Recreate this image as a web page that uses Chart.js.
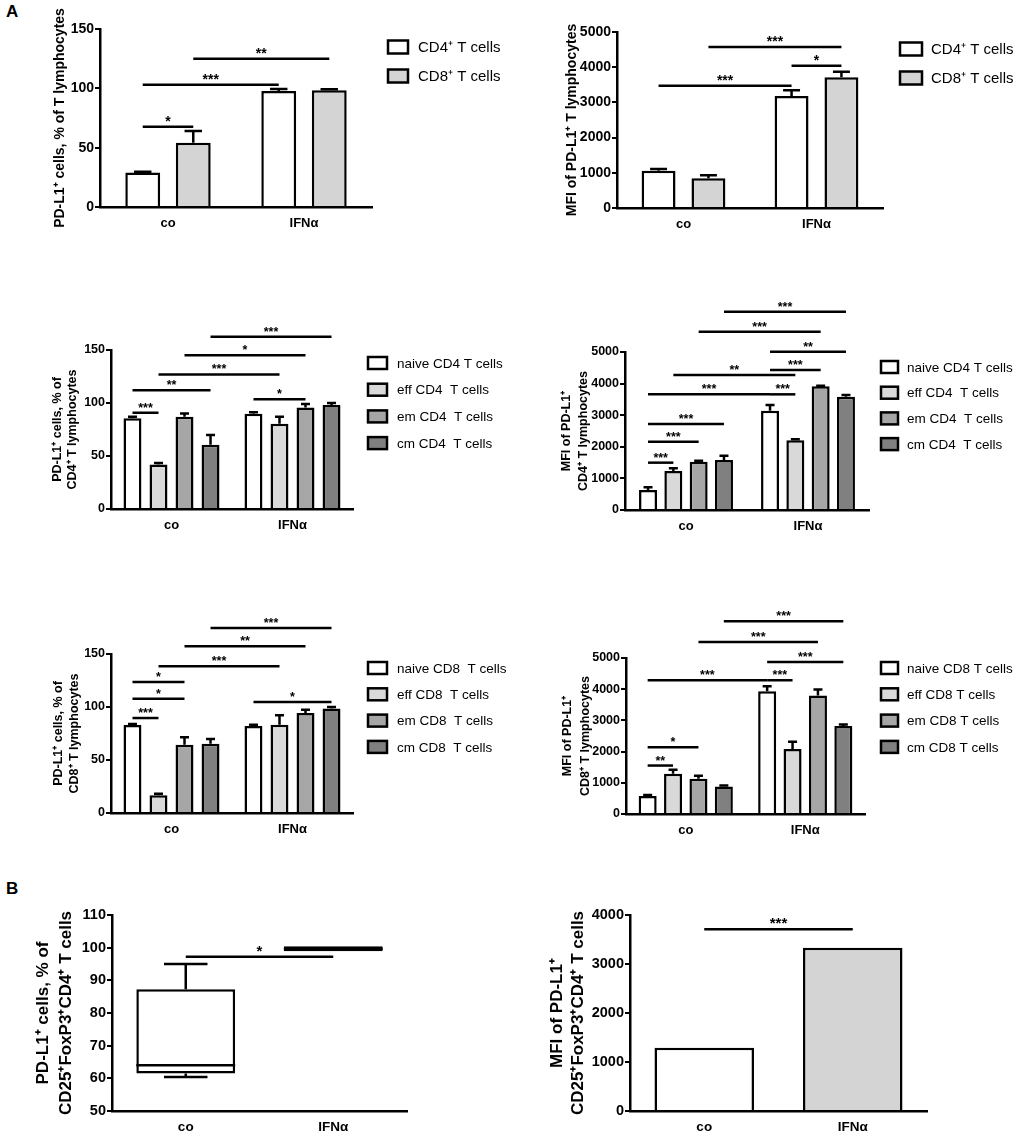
<!DOCTYPE html>
<html>
<head>
<meta charset="utf-8">
<script src="https://cdn.jsdelivr.net/npm/chart.js@4.4.1/dist/chart.umd.min.js"></script>
<style>
html, body { margin: 0; padding: 0; background: #fff; }
body { width: 1022px; height: 1134px; position: relative; overflow: hidden; font-family: "Liberation Sans", Arial, sans-serif; }
canvas { position: absolute; }
.tag { position: absolute; font-weight: bold; font-size: 17px; color: #000; }
</style>
</head>
<body>
<div class="tag" style="left:6px;top:2px">A</div>
<div class="tag" style="left:6px;top:879px">B</div>
<canvas id="p1"></canvas>
<canvas id="p2"></canvas>
<canvas id="p3"></canvas>
<canvas id="p4"></canvas>
<canvas id="p5"></canvas>
<canvas id="p6"></canvas>
<canvas id="p7"></canvas>
<canvas id="p8"></canvas>
<script>
var groups = ['co', 'IFNα'];

// A, top row: CD4 vs CD8
var tLabels = ['CD4⁺ T cells', 'CD8⁺ T cells'];
var pctCD4 = [29, 97.8];
var pctCD4Err = [29.8, 99.5];
var pctCD8 = [54.2, 98.3];
var pctCD8Err = [64, 99.2];
var mfiCD4 = [1061, 3182];
var mfiCD4Err = [1108, 3343];
var mfiCD8 = [843, 3712];
var mfiCD8Err = [928, 3873];

// A, subsets (naive, eff, em, cm), values per group [co, IFNα]
var cd4Labels = ['naive CD4 T cells', 'eff CD4  T cells', 'em CD4  T cells', 'cm CD4  T cells'];
var cd4Pct = [[85.5, 89.8], [42, 80.4], [87, 95.8], [60.6, 98]];
var cd4PctErr = [[87, 91.3], [43.5, 87], [90, 99], [69.7, 100]];
var cd4Mfi = [[633, 3143], [1234, 2205], [1530, 3913], [1582, 3586]];
var cd4MfiErr = [[717, 3323], [1318, 2236], [1561, 3935], [1719, 3639]];

var cd8PctLabels = ['naive CD8  T cells', 'eff CD8  T cells', 'em CD8  T cells', 'cm CD8  T cells'];
var cd8MfiLabels = ['naive CD8 T cells', 'eff CD8 T cells', 'em CD8 T cells', 'cm CD8 T cells'];
var cd8Pct = [[83, 82], [16.7, 83.3], [64.5, 94.3], [65.4, 98.7]];
var cd8PctErr = [[84, 83.3], [18.2, 92.1], [71.4, 97.5], [69.8, 100]];
var cd8Mfi = [[574, 3936], [1287, 2085], [1128, 3798], [883, 2819]];
var cd8MfiErr = [[606, 4096], [1415, 2319], [1223, 3989], [915, 2872]];

// B, Treg cells
var tregQ1 = [61.5, 98.9];
var tregQ3 = [87.3, 100.4];
var tregMedian = [64, 99.7];
var tregMin = [60.4, 98.9];
var tregMax = [95, 100.4];
var tregMfi = [1290, 3330];

// significance bars: [group, series, group, series, height, label]
var starsP1 = [[0, 0, 0, 1, 67.6, '*'], [0, 0, 1, 0, 103, '***'], [0, 1, 1, 1, 124.9, '**']];
var starsP2 = [[0, 0, 1, 0, 3475, '***'], [1, 0, 1, 1, 4044, '*'], [0, 1, 1, 1, 4574, '***']];
var starsP3 = [[0, 0, 0, 1, 90.8, '***'], [0, 0, 0, 3, 112, '**'], [0, 1, 1, 1, 127, '***'],
               [0, 2, 1, 2, 145, '*'], [0, 3, 1, 3, 162.6, '***'], [1, 0, 1, 2, 103.5, '*']];
var starsP4 = [[0, 0, 0, 1, 1498, '***'], [0, 0, 0, 2, 2162, '***'], [0, 0, 0, 3, 2722, '***'],
               [0, 0, 1, 0, 3660, '***'], [1, 0, 1, 1, 3660, '***'], [0, 1, 1, 1, 4272, '**'],
               [1, 0, 1, 2, 4430, '***'], [1, 0, 1, 3, 5010, '**'], [0, 2, 1, 2, 5643, '***'],
               [0, 3, 1, 3, 6276, '***']];
var starsP5 = [[0, 0, 0, 1, 89.6, '***'], [0, 0, 0, 2, 107.9, '*'], [0, 0, 0, 2, 123.6, '*'],
               [0, 1, 1, 1, 138.4, '***'], [0, 2, 1, 2, 157.2, '**'], [0, 3, 1, 3, 174.5, '***'],
               [1, 0, 1, 3, 104.7, '*']];
var starsP6 = [[0, 0, 0, 1, 1553, '**'], [0, 0, 0, 2, 2138, '*'], [0, 0, 1, 0, 4287, '***'],
               [1, 0, 1, 1, 4287, '***'], [1, 0, 1, 3, 4872, '***'], [0, 2, 1, 2, 5511, '***'],
               [0, 3, 1, 3, 6181, '***']];
var starsP7 = [[0, 0, 1, 0, 97.2, '*']];
var starsP8 = [[0, 0, 1, 0, 3707, '***']];

var FONT = '"Liberation Sans", Arial, sans-serif';
var fills = ['#ffffff', '#d9d9d9', '#a6a6a6', '#808080'];

// error bars, upper side only
var errorBars = {
    id: 'errorBars',
    afterDatasetsDraw: function (chart) {
        var ctx = chart.ctx, y = chart.scales.y;
        chart.data.datasets.forEach(function (ds, i) {
            if (!ds.err) return;
            chart.getDatasetMeta(i).data.forEach(function (bar, j) {
                var top = y.getPixelForValue(ds.data[j]);
                var end = y.getPixelForValue(ds.err[j]);
                var half = bar.width * 0.25;
                ctx.save();
                ctx.strokeStyle = '#000';
                ctx.lineWidth = 2.5;
                ctx.beginPath();
                ctx.moveTo(bar.x, top);
                ctx.lineTo(bar.x, end);
                ctx.moveTo(bar.x - half, end);
                ctx.lineTo(bar.x + half, end);
                ctx.stroke();
                ctx.restore();
            });
        });
    }
};

// box plot whiskers and median
var whiskers = {
    id: 'whiskers',
    afterDatasetsDraw: function (chart) {
        var b = chart.data.box;
        if (!b) return;
        var ctx = chart.ctx, y = chart.scales.y;
        chart.getDatasetMeta(0).data.forEach(function (bar, j) {
            var half = bar.width / 2, cap = bar.width * 0.22;
            ctx.save();
            ctx.strokeStyle = '#000';
            ctx.lineWidth = 2.5;
            ctx.beginPath();
            var yMed = y.getPixelForValue(b.median[j]);
            ctx.moveTo(bar.x - half, yMed); ctx.lineTo(bar.x + half, yMed);
            var yq3 = y.getPixelForValue(b.q3[j]), yMax = y.getPixelForValue(b.max[j]);
            if (b.max[j] > b.q3[j]) {
                ctx.moveTo(bar.x, yq3); ctx.lineTo(bar.x, yMax);
                ctx.moveTo(bar.x - cap, yMax); ctx.lineTo(bar.x + cap, yMax);
            }
            var yq1 = y.getPixelForValue(b.q1[j]), yMin = y.getPixelForValue(b.min[j]);
            if (b.min[j] < b.q1[j]) {
                ctx.moveTo(bar.x, yq1); ctx.lineTo(bar.x, yMin);
                ctx.moveTo(bar.x - cap, yMin); ctx.lineTo(bar.x + cap, yMin);
            }
            ctx.stroke();
            ctx.restore();
        });
    }
};

var brackets = {
    id: 'brackets',
    afterDraw: function (chart, args, o) {
        var list = chart.data.brackets || [];
        var ctx = chart.ctx, y = chart.scales.y;
        list.forEach(function (b) {
            var a = chart.getDatasetMeta(b[1]).data[b[0]];
            var c = chart.getDatasetMeta(b[3]).data[b[2]];
            var yy = y.getPixelForValue(b[4]);
            ctx.save();
            ctx.strokeStyle = '#000';
            ctx.lineWidth = 2.5;
            ctx.beginPath();
            ctx.moveTo(a.x, yy);
            ctx.lineTo(c.x, yy);
            ctx.stroke();
            ctx.fillStyle = '#000';
            ctx.font = 'bold ' + o.size + 'px ' + FONT;
            ctx.textAlign = 'center';
            ctx.textBaseline = 'alphabetic';
            ctx.fillText(b[5], (a.x + c.x) / 2, yy - 1);
            ctx.restore();
        });
    }
};

var boxLegend = {
    id: 'boxLegend',
    afterDraw: function (chart, args, o) {
        if (!o.show) return;
        var ctx = chart.ctx;
        chart.data.datasets.forEach(function (ds, i) {
            var cy = o.y + i * o.dy;
            ctx.save();
            ctx.fillStyle = ds.backgroundColor;
            ctx.fillRect(o.x, cy - o.bh / 2, o.bw, o.bh);
            ctx.strokeStyle = '#000';
            ctx.lineWidth = 2.5;
            ctx.strokeRect(o.x, cy - o.bh / 2, o.bw, o.bh);
            ctx.fillStyle = '#000';
            ctx.font = o.size + 'px ' + FONT;
            ctx.textAlign = 'left';
            ctx.textBaseline = 'middle';
            ctx.fillText(ds.label, o.tx, cy + 1);
            ctx.restore();
        });
    }
};

// f: canvas frame (page px), ax: axis box (page px)
function panel(id, f, ax, cfg) {
    var cv = document.getElementById(id);
    cv.width = f.w;
    cv.height = f.h;
    cv.style.left = f.x + 'px';
    cv.style.top = f.y + 'px';
    var lh = cfg.titleSize * cfg.titleLH;
    var lg = cfg.legend;
    var legendOpts = lg ? {
        show: true, x: lg.x - f.x, y: lg.y - f.y, dy: lg.dy, bw: lg.bw, bh: lg.bh,
        tx: lg.tx - f.x, size: lg.size
    } : { show: false };
    var data = { labels: groups, datasets: cfg.datasets, brackets: cfg.brackets };
    if (cfg.box) data.box = cfg.box;
    return new Chart(cv, {
        type: 'bar',
        data: data,
        options: {
            responsive: false,
            animation: false,
            devicePixelRatio: 1,
            layout: { padding: { left: 0, top: ax.top - f.y, right: f.x + f.w - ax.right, bottom: 0 } },
            datasets: {
                bar: {
                    categoryPercentage: cfg.cat,
                    barPercentage: cfg.bar,
                    borderColor: '#000',
                    borderWidth: 2.5,
                    borderSkipped: cfg.skip === undefined ? 'start' : cfg.skip
                }
            },
            plugins: {
                legend: { display: false },
                tooltip: { enabled: false },
                boxLegend: legendOpts,
                brackets: { size: cfg.starSize }
            },
            scales: {
                x: {
                    grid: { display: false, drawTicks: false },
                    border: { display: true, color: '#000', width: 2.5 },
                    ticks: {
                        color: '#000',
                        font: { family: FONT, weight: 'bold', size: cfg.xSize },
                        padding: 16 - cfg.xSize * 0.6
                    },
                    afterFit: function (s) { s.height = f.y + f.h - ax.bottom; }
                },
                y: {
                    min: cfg.min,
                    max: cfg.max,
                    ticks: {
                        stepSize: cfg.step,
                        autoSkip: false,
                        color: '#000',
                        padding: 1,
                        font: { family: FONT, weight: 'bold', size: cfg.tickSize },
                        callback: function (v) { return String(v); }
                    },
                    grid: { drawOnChartArea: false, drawTicks: true, tickLength: 5, color: '#000', lineWidth: 2 },
                    border: { color: '#000', width: 2.5 },
                    title: {
                        display: true,
                        text: cfg.title,
                        color: '#000',
                        font: { family: FONT, weight: 'bold', size: cfg.titleSize, lineHeight: cfg.titleLH },
                        padding: { top: cfg.titleX - f.x - lh / 2, bottom: 0 }
                    },
                    afterFit: function (s) { s.width = ax.left - f.x; }
                }
            }
        },
        plugins: [errorBars, whiskers, brackets, boxLegend]
    });
}

function pairSets(a, aErr, b, bErr, second) {
    return [
        { label: tLabels[0], data: a, err: aErr, backgroundColor: '#ffffff' },
        { label: tLabels[1], data: b, err: bErr, backgroundColor: second }
    ];
}

function subsetSets(labels, vals, errs) {
    return labels.map(function (lab, i) {
        return { label: lab, data: vals[i], err: errs[i], backgroundColor: fills[i] };
    });
}

panel('p1', { x: 0, y: 0, w: 515, h: 250 }, { left: 100, top: 29, bottom: 207, right: 372 }, {
    datasets: pairSets(pctCD4, pctCD4Err, pctCD8, pctCD8Err, '#d4d4d4'),
    brackets: starsP1, min: 0, max: 150, step: 50, cat: 0.743, bar: 0.69,
    title: 'PD-L1⁺ cells, % of T lymphocytes', titleSize: 14, titleLH: 1.2, titleX: 60,
    tickSize: 14, xSize: 13, starSize: 14,
    legend: { x: 388, y: 47, dy: 29, bw: 20, bh: 13, tx: 418, size: 15 }
});

panel('p2', { x: 520, y: 0, w: 502, h: 250 }, { left: 617, top: 32, bottom: 208, right: 883 }, {
    datasets: pairSets(mfiCD4, mfiCD4Err, mfiCD8, mfiCD8Err, '#d4d4d4'),
    brackets: starsP2, min: 0, max: 5000, step: 1000, cat: 0.75, bar: 0.68,
    title: 'MFI of PD-L1⁺ T lymphocytes', titleSize: 14, titleLH: 1.2, titleX: 572,
    tickSize: 14, xSize: 13, starSize: 14,
    legend: { x: 900, y: 49, dy: 29, bw: 22, bh: 13, tx: 931, size: 15 }
});

panel('p3', { x: 0, y: 290, w: 515, h: 255 }, { left: 111, top: 350, bottom: 509, right: 353 }, {
    datasets: subsetSets(cd4Labels, cd4Pct, cd4PctErr),
    brackets: starsP3, min: 0, max: 150, step: 50, cat: 0.86, bar: 0.69,
    title: ['PD-L1⁺ cells, % of', 'CD4⁺ T lymphocytes'], titleSize: 12.5, titleLH: 1.2, titleX: 58,
    tickSize: 12.5, xSize: 13, starSize: 12.5,
    legend: { x: 368, y: 363, dy: 26.7, bw: 19, bh: 12, tx: 397, size: 13.5 }
});

panel('p4', { x: 520, y: 290, w: 502, h: 255 }, { left: 625, top: 352, bottom: 510, right: 869 }, {
    datasets: subsetSets(cd4Labels, cd4Mfi, cd4MfiErr),
    brackets: starsP4, min: 0, max: 5000, step: 1000, cat: 0.83, bar: 0.71,
    title: ['MFI of PD-L1⁺', 'CD4⁺ T lymphocytes'], titleSize: 12.5, titleLH: 1.3, titleX: 567,
    tickSize: 12.5, xSize: 13, starSize: 12.5,
    legend: { x: 881, y: 367, dy: 25.7, bw: 17, bh: 12, tx: 907, size: 13.5 }
});

panel('p5', { x: 0, y: 590, w: 515, h: 255 }, { left: 111, top: 654, bottom: 813, right: 353 }, {
    datasets: subsetSets(cd8PctLabels, cd8Pct, cd8PctErr),
    brackets: starsP5, min: 0, max: 150, step: 50, cat: 0.86, bar: 0.69,
    title: ['PD-L1⁺ cells, % of', 'CD8⁺ T lymphocytes'], titleSize: 12.5, titleLH: 1.25, titleX: 59,
    tickSize: 12.5, xSize: 13, starSize: 12.5,
    legend: { x: 368, y: 668, dy: 26.3, bw: 19, bh: 12, tx: 397, size: 13.5 }
});

panel('p6', { x: 520, y: 590, w: 502, h: 255 }, { left: 626, top: 658, bottom: 814, right: 865 }, {
    datasets: subsetSets(cd8MfiLabels, cd8Mfi, cd8MfiErr),
    brackets: starsP6, min: 0, max: 5000, step: 1000, cat: 0.85, bar: 0.71,
    title: ['MFI of PD-L1⁺', 'CD8⁺ T lymphocytes'], titleSize: 12.5, titleLH: 1.4, titleX: 568,
    tickSize: 12.5, xSize: 13, starSize: 12.5,
    legend: { x: 881, y: 668, dy: 26.3, bw: 17, bh: 12, tx: 907, size: 13.5 }
});

panel('p7', { x: 0, y: 880, w: 515, h: 254 }, { left: 112, top: 915, bottom: 1111, right: 407 }, {
    datasets: [{
        label: 'PD-L1⁺ Treg',
        data: groups.map(function (g, i) { return [tregQ1[i], tregQ3[i]]; }),
        backgroundColor: ['#ffffff', '#000000']
    }],
    box: { q1: tregQ1, q3: tregQ3, median: tregMedian, min: tregMin, max: tregMax },
    skip: false,
    brackets: starsP7, min: 50, max: 110, step: 10, cat: 1, bar: 0.67,
    title: ['PD-L1⁺ cells, % of', 'CD25⁺FoxP3⁺CD4⁺ T cells'], titleSize: 17, titleLH: 1.4, titleX: 43,
    tickSize: 14.5, xSize: 13.5, starSize: 15
});

panel('p8', { x: 520, y: 880, w: 502, h: 254 }, { left: 630, top: 915, bottom: 1111, right: 927 }, {
    datasets: [{
        label: 'MFI',
        data: tregMfi,
        backgroundColor: ['#ffffff', '#d4d4d4']
    }],
    brackets: starsP8, min: 0, max: 4000, step: 1000, cat: 1, bar: 0.67,
    title: ['MFI of PD-L1⁺', 'CD25⁺FoxP3⁺CD4⁺ T cells'], titleSize: 17, titleLH: 1.25, titleX: 557,
    tickSize: 14.5, xSize: 13.5, starSize: 15
});
</script>
</body>
</html>
